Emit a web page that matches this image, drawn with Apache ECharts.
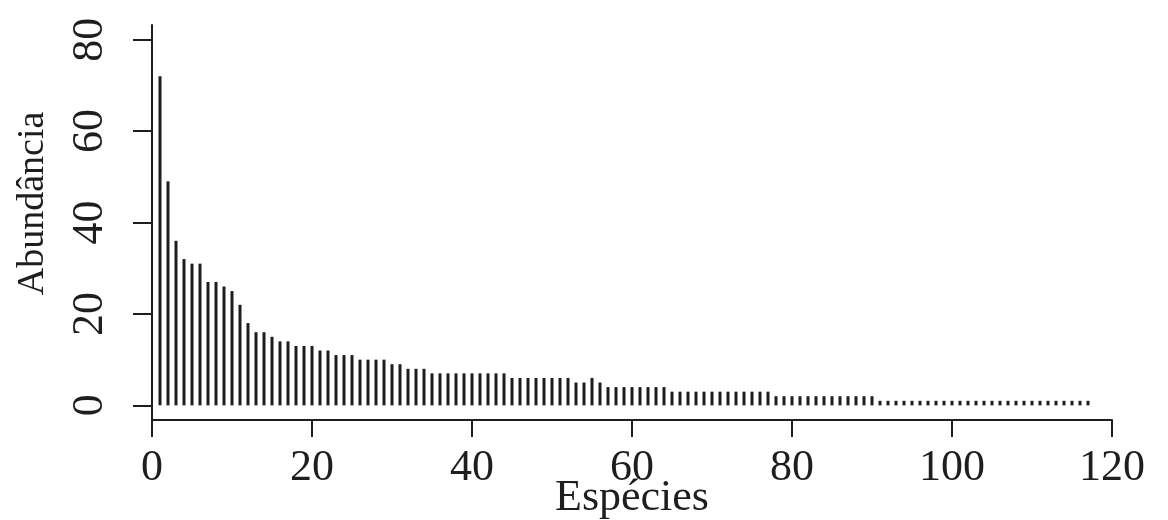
<!DOCTYPE html>
<html>
<head>
<meta charset="utf-8">
<script src="https://cdn.jsdelivr.net/npm/echarts@6/dist/echarts.min.js"></script>
<style>html,body{margin:0;padding:0;background:#fff;}#chart{width:1168px;height:520px;}</style>
</head>
<body>
<div id="chart"></div>
<script>
// Abundance of each species, ranked (species 1..117)
var abundance = [
  72, 49, 36, 32, 31, 31, 27, 27, 26, 25,
  22, 18, 16, 16, 15, 14, 14, 13, 13, 13,
  12, 12, 11, 11, 11, 10, 10, 10, 10, 9,
  9, 8, 8, 8, 7, 7, 7, 7, 7, 7,
  7, 7, 7, 7, 6, 6, 6, 6, 6, 6,
  6, 6, 5, 5, 6, 5, 4, 4, 4, 4,
  4, 4, 4, 4, 3, 3, 3, 3, 3, 3,
  3, 3, 3, 3, 3, 3, 3, 2, 2, 2,
  2, 2, 2, 2, 2, 2, 2, 2, 2, 2,
  1, 1, 1, 1, 1, 1, 1, 1, 1, 1,
  1, 1, 1, 1, 1, 1, 1, 1, 1, 1,
  1, 1, 1, 1, 1, 1, 1
];
var xTicks = [0, 20, 40, 60, 80, 100, 120];
var yTicks = [0, 20, 40, 60, 80];

var points = abundance.map(function (v, i) { return [i + 1, v]; });

var ink = '#1e1e1e';
var font = 'Liberation Serif';
var chart = echarts.init(document.getElementById('chart'));
chart.setOption({
  backgroundColor: '#ffffff',
  animation: false,
  grid: { left: 152, right: 56, top: 25, bottom: 100, containLabel: false, outerBoundsMode: 'none' },
  xAxis: {
    type: 'value', min: 0, max: 120, interval: 20,
    name: 'Espécies', nameLocation: 'middle', nameGap: 56, nameMoveOverlap: false,
    nameTextStyle: { fontFamily: font, fontSize: 44, color: ink },
    axisLine: { show: true, onZero: false, lineStyle: { color: ink, width: 2 } },
    axisTick: { show: true, length: 17, lineStyle: { color: ink, width: 2 } },
    axisLabel: { margin: 26, fontFamily: font, fontSize: 44, color: ink },
    splitLine: { show: false }
  },
  yAxis: {
    type: 'value', min: -3.2, max: 83.2,
    name: 'Abundância', nameLocation: 'middle', nameRotate: 90, nameGap: 100, nameMoveOverlap: false,
    nameTextStyle: { fontFamily: font, fontSize: 38, color: ink, padding: [0, 0, 0, 38] },
    axisLine: { show: true, onZero: false, lineStyle: { color: ink, width: 2 } },
    axisTick: { show: true, length: 19, customValues: yTicks, lineStyle: { color: ink, width: 2 } },
    axisLabel: { rotate: 90, margin: 40, customValues: yTicks, fontFamily: font, fontSize: 44, color: ink },
    splitLine: { show: false }
  },
  series: [{
    type: 'bar',
    data: points,
    barWidth: 3,
    itemStyle: { color: ink },
    silent: true
  }]
});
</script>
</body>
</html>
